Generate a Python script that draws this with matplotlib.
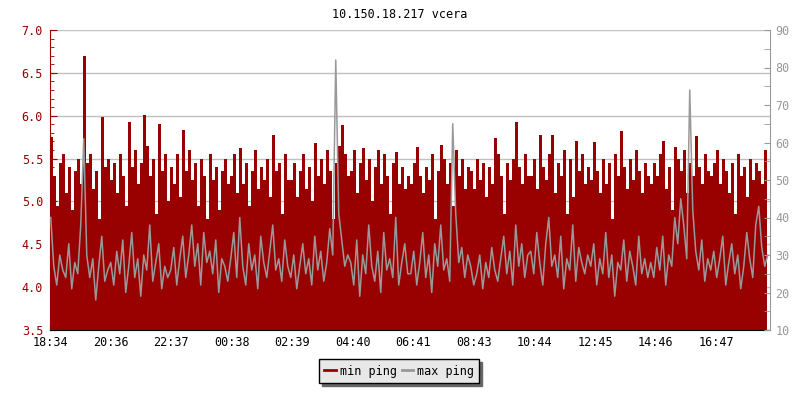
import matplotlib
matplotlib.use('Agg')
import matplotlib.pyplot as plt
import matplotlib.ticker as ticker
import numpy as np

# ── data (6-minute samples, 24 h) ───────────────────────────────────────────
min_ping = [
    5.75, 5.30, 4.95, 5.45, 5.55, 5.10, 5.40, 4.90, 5.35, 5.50, 5.20, 6.70, 5.45, 5.55, 5.15, 5.35, 4.80, 5.98, 5.40, 5.50,
    5.25, 5.45, 5.10, 5.55, 5.30, 4.95, 5.93, 5.40, 5.60, 5.20, 5.45, 6.01, 5.65, 5.30, 5.50, 4.85, 5.90, 5.35, 5.55, 5.00,
    5.40, 5.20, 5.55, 5.05, 5.83, 5.35, 5.60, 5.25, 5.45, 4.95, 5.50, 5.30, 4.80, 5.55, 5.25, 5.40, 4.90, 5.35, 5.50, 5.20,
    5.30, 5.55, 5.10, 5.62, 5.20, 5.45, 4.95, 5.35, 5.60, 5.15, 5.40, 5.25, 5.50, 5.05, 5.78, 5.35, 5.45, 4.85, 5.55, 5.25,
    5.25, 5.45, 5.05, 5.35, 5.55, 5.15, 5.40, 5.00, 5.68, 5.30, 5.50, 5.20, 5.60, 5.35, 4.80, 5.45, 5.65, 5.89, 5.55, 5.30,
    5.35, 5.60, 5.10, 5.45, 5.62, 5.25, 5.50, 5.00, 5.40, 5.60, 5.20, 5.55, 5.30, 4.85, 5.45, 5.58, 5.20, 5.40, 5.15, 5.30,
    5.20, 5.45, 5.63, 5.30, 5.10, 5.40, 5.25, 5.55, 4.80, 5.35, 5.66, 5.50, 5.20, 5.45, 4.95, 5.60, 5.30, 5.50, 5.15, 5.40,
    5.35, 5.15, 5.50, 5.25, 5.45, 5.05, 5.40, 5.20, 5.74, 5.55, 5.30, 4.85, 5.45, 5.25, 5.50, 5.93, 5.40, 5.20, 5.55, 5.30,
    5.30, 5.50, 5.15, 5.78, 5.40, 5.25, 5.55, 5.78, 5.10, 5.45, 5.30, 5.60, 4.85, 5.50, 5.05, 5.70, 5.35, 5.55, 5.20, 5.40,
    5.25, 5.69, 5.35, 5.10, 5.50, 5.20, 5.45, 4.80, 5.55, 5.30, 5.82, 5.40, 5.15, 5.50, 5.25, 5.60, 5.35, 5.10, 5.45, 5.30,
    5.20, 5.45, 5.30, 5.55, 5.70, 5.15, 5.40, 4.90, 5.63, 5.50, 5.35, 5.60, 5.10, 5.45, 5.30, 5.76, 5.40, 5.20, 5.55, 5.35,
    5.30, 5.45, 5.60, 5.20, 5.50, 5.35, 5.10, 5.45, 4.85, 5.55, 5.30, 5.40, 5.05, 5.50, 5.25, 5.45, 5.35, 5.20, 5.60, 5.40,
]
max_ping = [
    40, 27, 22, 30, 26, 24, 33, 21, 28, 25, 38, 61, 30, 24, 29, 18, 27, 35, 23, 26,
    28, 22, 31, 25, 34, 20, 27, 36, 24, 29, 19, 30, 26, 38, 23, 28, 33, 21, 27, 24,
    26, 32, 22, 29, 35, 24, 30, 38, 27, 33, 22, 36, 28, 31, 25, 34, 20, 29, 27, 23,
    29, 36, 24, 40, 27, 22, 33, 26, 30, 21, 35, 28, 24, 31, 38, 26, 29, 23, 34, 27,
    24, 30, 21, 27, 33, 25, 29, 22, 35, 26, 31, 23, 28, 37, 30, 82, 41, 34, 27, 30,
    28, 22, 34, 19, 30, 25, 38, 27, 23, 31, 20, 36, 26, 29, 24, 40, 22, 28, 33, 25,
    25, 31, 22, 28, 36, 24, 30, 20, 33, 27, 38, 26, 29, 23, 65, 41, 28, 32, 24, 30,
    27, 22, 25, 30, 21, 28, 24, 32, 26, 23, 29, 35, 25, 31, 22, 38, 27, 33, 24, 30,
    31, 25, 36, 28, 22, 33, 40, 27, 30, 24, 35, 21, 29, 26, 38, 23, 32, 28, 25, 30,
    27, 33, 22, 29, 25, 36, 24, 30, 19, 28, 26, 34, 23, 31, 27, 22, 35, 25, 29, 24,
    28, 24, 32, 26, 35, 22, 30, 27, 40, 33, 45, 38, 29, 74, 42, 31, 26, 34, 23, 29,
    26, 31, 24, 29, 35, 22, 28, 33, 25, 30, 21, 27, 36, 29, 24, 38, 43, 32, 27, 30,
]
minutes = np.arange(len(min_ping)) * 6          # 18:34 + n*6 min
tick_labels = ['18:34', '20:36', '22:37', '00:38', '02:39', '04:40',
               '06:41', '08:43', '10:44', '12:45', '14:46', '16:47']

RED = '#990000'
GREY = '#999999'
plt.rcParams['font.family'] = 'DejaVu Sans Mono'

fig = plt.figure(figsize=(8, 4), dpi=100)
ax = fig.add_axes([0.0625, 0.175, 0.9, 0.75])
ax2 = ax.twinx()

# min ping: filled from the bottom
ax.fill_between(minutes, 3.5, min_ping, step='post', color=RED, lw=0, zorder=2)
ax.set_ylim(3.5, 7.0)
ax.set_xlim(0, 1440)
ax.yaxis.set_major_locator(ticker.MultipleLocator(0.5))
ax.yaxis.set_minor_locator(ticker.MultipleLocator(0.1))
ax.yaxis.set_major_formatter(ticker.FormatStrFormatter('%.1f'))
ax.grid(axis='y', color='#c0c0c0', lw=1, zorder=0)
ax.set_axisbelow(True)
ax.tick_params(axis='y', which='major', direction='in', length=5, color=RED,
               labelcolor=RED, labelsize=8.5, pad=5)
ax.tick_params(axis='y', which='minor', direction='in', length=3, color=RED)
ax.set_xticks(np.linspace(0, 1333, len(tick_labels)))
ax.set_xticklabels(tick_labels)
ax.tick_params(axis='x', direction='in', length=5, labelsize=8.5, pad=4)
ax.spines['left'].set_color(RED)
ax.spines['top'].set_visible(False)
ax.spines['right'].set_visible(False)

# max ping: grey line on the right axis
ax2.plot(minutes + 1.5, max_ping, color=GREY, lw=1.1)
ax2.set_ylim(10, 90)
ax2.yaxis.set_major_locator(ticker.MultipleLocator(10))
ax2.yaxis.set_minor_locator(ticker.MultipleLocator(5))
ax2.tick_params(axis='y', which='major', direction='in', length=4, color=GREY,
                labelcolor=GREY, labelsize=8.5, pad=4)
ax2.tick_params(axis='y', which='minor', direction='in', length=4, color=GREY)
ax2.spines['right'].set_color(GREY)
ax2.spines['top'].set_visible(False)
ax2.spines['left'].set_visible(False)
ax2.spines['bottom'].set_visible(False)

fig.text(0.5, 0.965, '10.150.18.217 vcera', ha='center', va='center', fontsize=8.5)

h1 = plt.Line2D([], [], color=RED, lw=2)
h2 = plt.Line2D([], [], color=GREY, lw=2)
leg = fig.legend([h1, h2], ['min ping', 'max ping'], loc='center',
                 bbox_to_anchor=(0.499, 0.0725), ncol=2, fontsize=8.5,
                 frameon=True, fancybox=False, shadow={'color': '#666666', 'alpha': 1},
                 handlelength=1.0, handletextpad=0.3, columnspacing=0.4,
                 borderpad=0.45, borderaxespad=0)
leg.get_frame().set_facecolor('#e8e8e8')
leg.get_frame().set_edgecolor('black')
leg.get_frame().set_alpha(1)

fig.savefig('out.png', dpi=100)
